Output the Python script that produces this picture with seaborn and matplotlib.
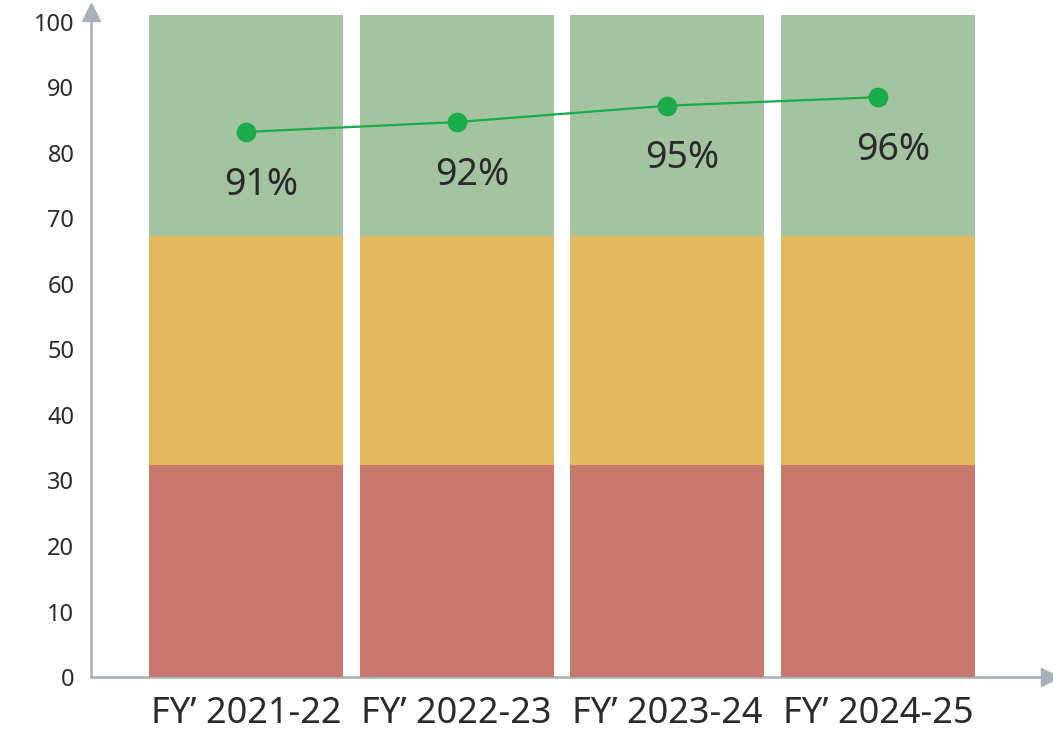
import matplotlib
matplotlib.use("Agg")
import matplotlib.pyplot as plt
import seaborn as sns

# --- data ---
years = ["FY\u2019 2021-22", "FY\u2019 2022-23", "FY\u2019 2023-24", "FY\u2019 2024-25"]
red_top = [32.4, 32.4, 32.4, 32.4]
yellow_top = [67.3, 67.3, 67.3, 67.3]
green_top = [101.0, 101.0, 101.0, 101.0]
line_y = [83.2, 84.7, 87.2, 88.5]
pct_labels = ["91%", "92%", "95%", "96%"]

sns.set_theme(style="white")
plt.rcParams['font.family'] = ['Noto Sans', 'DejaVu Sans']

fig = plt.figure(figsize=(10.53, 7.32), dpi=100)
ax = fig.add_axes([0.0864, 0.0751, 0.9107, 0.9085])

# stacked bands drawn as overlapping bars (tallest first)
sns.barplot(x=years, y=green_top, color="#a3c3a1", saturation=1, width=0.92,
            linewidth=0, ax=ax)
sns.barplot(x=years, y=yellow_top, color="#e1b95f", saturation=1, width=0.92,
            linewidth=0, ax=ax)
sns.barplot(x=years, y=red_top, color="#c9786e", saturation=1, width=0.92,
            linewidth=0, ax=ax)

# trend line
sns.pointplot(x=years, y=line_y, color="#1aab4b", markers="o", markersize=13,
              linewidth=1.6, errorbar=None, ax=ax)

for i, (v, lab) in enumerate(zip(line_y, pct_labels)):
    ax.annotate(lab, (i, v), xytext=(11, -38), textcoords="offset points",
                ha="center", va="center", fontsize=27, color="#2b2b2b")

ax.set_xlim(-0.736, 3.816)
ax.set_ylim(0, 101.5)
ax.set_yticks(range(0, 101, 10))
ax.tick_params(axis="y", labelsize=17, colors="#2b2b2b", length=0, pad=12)
ax.tick_params(axis="x", labelsize=26, colors="#2b2b2b", length=0, pad=14)

for s in ["top", "right"]:
    ax.spines[s].set_visible(False)
for s in ["left", "bottom"]:
    ax.spines[s].set_color("#a9b0bb")
    ax.spines[s].set_linewidth(1.8)
    ax.spines[s].set_zorder(0.5)

# axis arrows
ax.plot([0], [1.0], marker="^", markersize=13, color="#a9b0bb",
        transform=ax.transAxes, clip_on=False)
ax.plot([1.0], [0], marker=">", markersize=13, color="#a9b0bb",
        transform=ax.transAxes, clip_on=False)

ax.set_xlabel("")
ax.set_ylabel("")

plt.savefig("out.png", dpi=100, facecolor="white")
